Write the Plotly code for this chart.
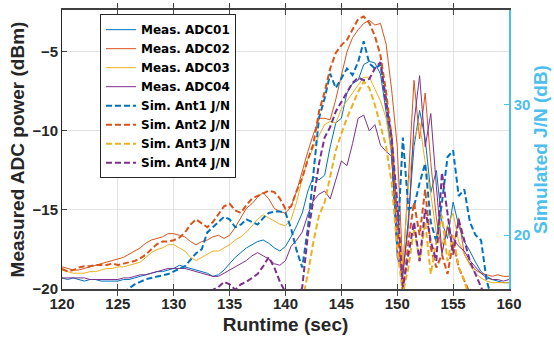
import plotly.graph_objects as go

# ---------------- data ----------------
runtime = [120 + 0.5 * i for i in range(81)]

meas_adc01 = [-19.3, -19.4, -19.3, -19.4, -19.5, -19.4, -19.4, -19.5, -19.5, -19.5,
              -19.5, -19.4, -19.4, -19.3, -19.2, -19.1, -19.0, -18.9, -18.9, -18.8,
              -18.7, -18.5, -18.6, -18.7, -18.8, -18.9, -19.0, -19.2, -19.1, -18.8,
              -18.4, -18.0, -17.7, -17.4, -17.2, -17.0, -16.9, -17.1, -17.4, -17.6,
              -17.3, -16.7, -16.0, -15.2, -13.8, -12.9, -13.1, -12.8, -11.0, -9.5,
              -9.2, -7.6, -7.0, -6.8, -5.8, -5.6, -5.7, -6.4, -8.8, -11.5,
              -17.5, -19.2, -15.5, -11.0, -8.7, -10.5, -13.9, -12.5, -15.8, -16.8,
              -14.5, -16.0, -17.0, -17.6, -18.3, -18.9, -19.2, -19.4, -19.5, -19.6,
              -19.6]

meas_adc02 = [-18.6, -18.7, -18.8, -18.8, -18.7, -18.6, -18.5, -18.4, -18.3, -18.2,
              -18.1, -18.0, -17.8, -17.6, -17.4, -17.1, -16.9, -16.8, -16.7, -16.5,
              -16.5, -16.6, -16.7, -17.0, -17.2, -17.0, -16.9, -16.7, -16.6, -16.8,
              -16.6, -16.1, -15.5, -14.9, -14.6, -14.2, -13.9, -14.3, -14.9, -15.1,
              -15.2, -14.8, -13.8, -12.5, -11.3, -10.2, -9.2, -9.2, -9.3, -8.0,
              -6.5, -5.0, -4.1, -3.6, -3.2, -3.0, -3.3, -3.2, -4.5, -7.4,
              -11.0, -18.8, -13.0, -6.8, -10.5, -7.6, -12.0, -15.5, -17.8, -16.0,
              -17.5, -15.5, -17.8, -18.4, -18.8, -19.0, -19.1, -19.2, -19.1, -19.2,
              -19.2]

meas_adc03 = [-18.8, -18.9, -19.0, -19.0, -19.0, -18.9, -18.9, -18.8, -18.7, -18.7,
              -18.6, -18.6, -18.5, -18.4, -18.3, -18.0, -17.7, -17.5, -17.4, -17.2,
              -17.2, -17.4, -17.6, -18.0, -18.2, -18.0, -17.8, -17.6, -17.6, -17.4,
              -17.2, -16.9, -16.7, -16.4, -16.0, -15.6, -15.3, -15.5, -15.7, -15.9,
              -16.0, -15.6, -14.5, -13.0, -11.8, -11.0, -10.3, -9.6, -9.4, -9.5,
              -8.6, -8.1, -7.6, -7.1, -6.6, -6.6, -7.3, -8.1, -9.2, -11.5,
              -15.0, -18.5, -13.5, -10.5, -9.5, -12.0, -14.0, -16.5, -17.2, -16.0,
              -15.2, -17.0, -17.8, -18.5, -19.0, -19.3, -19.5, -19.6, -19.6, -19.6,
              -19.6]

meas_adc04 = [-19.3, -19.3, -19.3, -19.3, -19.3, -19.4, -19.4, -19.4, -19.4, -19.4,
              -19.4, -19.3, -19.3, -19.2, -19.1, -19.1, -19.0, -18.9, -18.8, -18.7,
              -18.7, -18.7, -18.7, -18.8, -18.9, -19.0, -19.1, -19.2, -19.2, -19.0,
              -18.8, -18.6, -18.4, -18.2, -17.9, -17.7, -17.9, -18.1, -18.4, -18.5,
              -18.2, -17.3, -16.9, -16.4, -15.3, -14.4, -14.0, -13.8, -14.3, -13.1,
              -11.9, -12.2, -10.8, -9.2, -9.0, -10.0, -9.6, -10.9, -11.3, -11.6,
              -18.0, -19.0, -16.0, -9.5, -6.5, -11.0, -8.9, -13.5, -17.7, -16.1,
              -16.8, -17.3, -17.6, -18.2, -18.6, -19.0, -19.3, -19.4, -19.4, -19.5,
              -19.4]

N = None
sim_ant1 = [N, N, N, N, N, N, N, N, N, N,
            15.0, 15.5, 15.9, 16.2, 16.4, 16.6, 16.7, 16.8, 16.9, 17.0,
            17.2, 17.4, 17.6, 18.1, 18.6, 18.9, 20.2, 20.6, 21.0, 21.4,
            21.2, 20.6, 20.8, 21.2, 21.0, 20.8, 21.3, 21.7, 21.8, 21.8,
            21.7, 20.5, 18.8, 17.5, 20.5, 25.0, 29.0, 30.5, 32.4, 31.3,
            32.1, 32.8, 32.3, 33.3, 34.9, 33.2, 32.8, 33.1, 30.5, 27.0,
            19.0, 27.5, 22.0, 22.2, 24.0, 25.5, 21.0, 19.5, 22.5, 26.0,
            26.5, 23.0, 23.5, 21.0, 20.0, 19.6, 16.5, 15.0, N, N,
            N]

sim_ant2 = [17.4, 17.2, 17.3, 17.5, 17.6, 17.6, 17.7, 17.7, 17.7, 17.8,
            17.7, 17.8, 17.9, 18.0, 18.2, 18.5, 18.9, 19.3, 19.5, 19.5,
            19.6, 19.8, 20.2, 20.8, 21.2, 20.9, 20.6, 21.0, 21.6, 22.2,
            22.4, 21.9, 21.7, 22.3, 22.8, 23.0, 23.2, 23.4, 23.3, 22.8,
            22.0, 22.2, 23.4, 24.4, 25.8, 27.0, 29.5, 31.0, 32.8, 34.0,
            34.6, 35.0, 35.8, 36.6, 36.8, 36.3, 35.3, 33.8, 31.0, 27.5,
            21.0, 15.5, 19.5, 22.5, 20.0, 23.5, 19.0, 17.5, 18.5, 17.0,
            19.5, 17.5, 16.5, 15.5, N, N, N, N, N, N,
            N]

sim_ant3 = [N, N, N, N, N, N, N, N, N, N,
            N, N, N, N, N, N, N, N, N, N,
            N, N, N, N, N, N, N, N, N, N,
            N, N, N, N, N, N, N, N, N, N,
            N, N, N, 15.0, 17.0, 19.5, 21.5, 22.5, 24.5, 26.5,
            27.8, 29.0, 30.0, 31.0, 31.8, 31.3, 30.0, 28.5, 26.8, 24.0,
            19.0, 15.5, 17.5, 20.5, 18.0, 21.0, 17.0, 19.5, 21.5, 18.0,
            20.0, 17.5, 16.5, 15.0, N, N, N, N, N, N,
            N]

sim_ant4 = [N, N, N, N, N, N, N, N, N, N,
            N, N, N, N, N, N, N, N, N, N,
            N, N, N, N, N, N, 15.0, 15.8, 16.0, 16.4,
            16.2, 15.8, 16.2, 16.4, 16.7, 17.0, 17.6, 18.3, 17.5, 16.4,
            15.6, 14.8, 14.5, 16.0, 20.0, 22.9, 25.5, 27.5, 28.3, 29.5,
            30.2, 31.0, 31.7, 32.1, 31.9, 32.0, 32.8, 33.3, 30.0, 27.5,
            22.5, 16.0, 18.5, 21.0, 18.0, 22.0, 19.5, 18.0, 24.8, 21.5,
            18.5, 21.2, 19.5, 18.0, 17.0, 16.0, 15.0, N, N, N,
            N]

x_ticks = [120, 125, 130, 135, 140, 145, 150, 155, 160]
left_ticks = [-20, -15, -10, -5]
right_ticks = [20, 30]

# ---------------- style ----------------
C1, C2, C3, C4 = "#0072BD", "#D95319", "#EDB120", "#7E2F8E"
RIGHT = "#4DBEEE"
AX = "#262626"
FONT = "Liberation Sans"

fig = go.Figure()
meas = [("Meas. ADC01", meas_adc01, C1), ("Meas. ADC02", meas_adc02, C2),
        ("Meas. ADC03", meas_adc03, C3), ("Meas. ADC04", meas_adc04, C4)]
sims = [("Sim. Ant1 J/N", sim_ant1, C1), ("Sim. Ant2 J/N", sim_ant2, C2),
        ("Sim. Ant3 J/N", sim_ant3, C3), ("Sim. Ant4 J/N", sim_ant4, C4)]

for name, ys, c in meas:
    fig.add_trace(go.Scatter(x=runtime, y=ys, name=name, mode="lines",
                             line=dict(color=c, width=1), yaxis="y"))
for name, ys, c in sims:
    fig.add_trace(go.Scatter(x=runtime, y=ys, name=name, mode="lines",
                             line=dict(color=c, width=2, dash="6px,3px"),
                             yaxis="y2", connectgaps=False))

fig.update_layout(
    width=554, height=340,
    margin=dict(l=62, r=45, t=10, b=51, autoexpand=False),
    paper_bgcolor="white", plot_bgcolor="white",
    font=dict(family=FONT, size=15, color=AX, weight="bold"),
    showlegend=True,
    legend=dict(x=0.085, y=0.985, xanchor="left", yanchor="top",
                bgcolor="white", bordercolor=AX, borderwidth=1,
                font=dict(family="DejaVu Sans", size=12, color="black", weight="bold"),
                itemwidth=30, tracegroupgap=0),
    xaxis=dict(range=[120, 160], tickvals=x_ticks, ticks="inside", ticklen=5,
               showline=True, linecolor="#404040", linewidth=1.5, mirror="allticks",
               showgrid=True, gridcolor="#e3e3e3", gridwidth=1, zeroline=False,
               automargin=False,
               tickfont=dict(size=15, weight="bold", color=AX),
               title=dict(text="Runtime (sec)", font=dict(size=19, weight="bold", color=AX),
                          standoff=7)),
    yaxis=dict(range=[-20, -2.35], tickvals=left_ticks, ticks="inside", ticklen=5,
               showline=True, linecolor=AX, linewidth=1, showgrid=True,
               gridcolor="#e3e3e3", gridwidth=1, zeroline=False, automargin=False,
               tickfont=dict(size=15, weight="bold", color=AX),
               title=dict(text="Measured ADC power (dBm)",
                          font=dict(size=19, weight="bold", color=AX), standoff=2)),
    yaxis2=dict(range=[15.85, 37.3], tickvals=right_ticks, overlaying="y", side="right",
                ticks="inside", ticklen=5, tickcolor=RIGHT, showline=True,
                linecolor=RIGHT, linewidth=1.5, showgrid=False, zeroline=False,
                automargin=False,
                tickfont=dict(size=15, weight="bold", color=RIGHT),
                title=dict(text="Simulated J/N (dB)",
                           font=dict(size=19, weight="bold", color=RIGHT), standoff=3)),
)

fig.write_html("out.html")
